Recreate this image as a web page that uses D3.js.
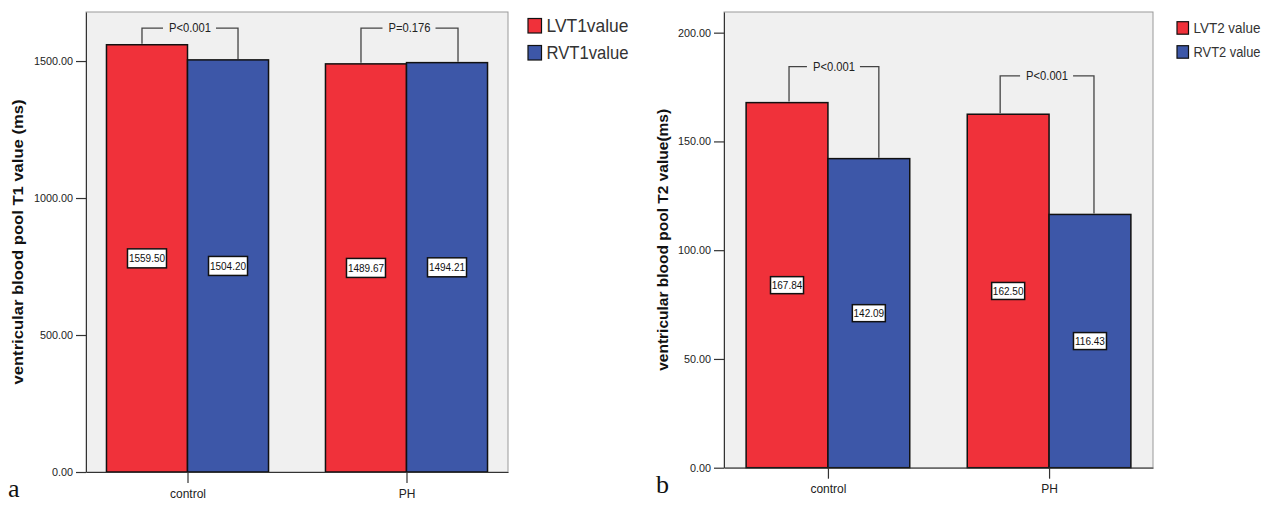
<!DOCTYPE html>
<html>
<head>
<meta charset="utf-8">
<script src="https://cdn.jsdelivr.net/npm/d3@7"></script>
<style>
  html, body { margin: 0; padding: 0; background: #ffffff; }
  svg { display: block; font-family: "Liberation Sans", Arial, sans-serif; }
</style>
</head>
<body>
<svg id="chart" width="1276" height="505"></svg>
<script>
// ---------- data ----------
const categories = ["control", "PH"];

const seriesT1 = ["LVT1value", "RVT1value"];
const lvT1 = [1559.50, 1489.67];
const rvT1 = [1504.20, 1494.21];
const pT1 = ["P<0.001", "P=0.176"];
const bracketT1 = [1620, 1620];
const ticksT1 = [0, 500, 1000, 1500];

const seriesT2 = ["LVT2 value", "RVT2 value"];
const lvT2 = [167.84, 162.50];
const rvT2 = [142.09, 116.43];
const pT2 = ["P<0.001", "P<0.001"];
const bracketT2 = [184.4, 180.1];
const ticksT2 = [0, 50, 100, 150, 200];

const colors = ["#f0313a", "#3d57a8"];

// ---------- layout ----------
const panels = [
  {
    series: seriesT1, lv: lvT1, rv: rvT1, p: pT1, bracket: bracketT1, ticks: ticksT1,
    yMax: 1679, x0: 86, x1: 508, yTop: 12, yBot: 472, pad: 0.4635, barFrac: 0.37,
    title: "ventricular blood pool T1 value (ms)", titleX: 18, titleLen: 285,
    brDx: [[-5, 10], [-5, 11]],
    legX: 528, legY: 18.5, legSw: 14.5, legGap: 27, legFont: 18.5, legTextW: 82,
    letter: "a", letterX: 8, letterY: 497, boxW: 39, boxH: 19
  },
  {
    series: seriesT2, lv: lvT2, rv: rvT2, p: pT2, bracket: bracketT2, ticks: ticksT2,
    yMax: 209.5, x0: 724, x1: 1153, yTop: 12, yBot: 467.7, pad: 0.47, barFrac: 0.37,
    title: "ventricular blood pool T2 value(ms)", titleX: 663, titleLen: 262,
    brDx: [[2, 10], [-8, 4]],
    legX: 1177, legY: 21.7, legSw: 12.5, legGap: 24, legFont: 14, legTextW: 67,
    letter: "b", letterX: 656, letterY: 493, boxW: 33, boxH: 17
  }
];

const svg = d3.select("#chart");

panels.forEach(P => {
  const g = svg.append("g");
  const x = d3.scalePoint().domain(categories).range([P.x0, P.x1]).padding(P.pad);
  const y = d3.scaleLinear().domain([0, P.yMax]).range([P.yBot, P.yTop]);
  const bw = x.step() * P.barFrac;

  // plot background
  g.append("rect")
    .attr("x", P.x0).attr("y", P.yTop)
    .attr("width", P.x1 - P.x0).attr("height", P.yBot - P.yTop)
    .attr("fill", "#f0f0f0").attr("stroke", "#9a9a9a").attr("stroke-width", 1);

  // bars
  const rows = categories.map((c, i) => ({ c, vals: [P.lv[i], P.rv[i]] }));
  rows.forEach(r => {
    r.vals.forEach((v, j) => {
      g.append("rect")
        .attr("x", x(r.c) - bw + j * bw)
        .attr("y", y(v))
        .attr("width", bw)
        .attr("height", y(0) - y(v))
        .attr("fill", colors[j])
        .attr("stroke", "#111")
        .attr("stroke-width", 1.5);
    });
  });

  // value labels (at half height)
  rows.forEach(r => {
    r.vals.forEach((v, j) => {
      const cx = x(r.c) - bw / 2 + j * bw;
      const cy = y(v / 2);
      const lg = g.append("g");
      lg.append("rect")
        .attr("x", cx - P.boxW / 2).attr("y", cy - P.boxH / 2)
        .attr("width", P.boxW).attr("height", P.boxH)
        .attr("fill", "#ffffff").attr("stroke", "#111").attr("stroke-width", 1.5);
      lg.append("text")
        .attr("x", cx).attr("y", cy + 3.6)
        .attr("text-anchor", "middle")
        .attr("font-size", 10).attr("fill", "#111")
        .text(d3.format(".2f")(v));
    });
  });

  // significance brackets
  rows.forEach((r, i) => {
    const xl = x(r.c) - bw / 2 + P.brDx[i][0];
    const xr = x(r.c) + bw / 2 + P.brDx[i][1];
    const yb = y(P.bracket[i]);
    const mid = (xl + xr) / 2;
    g.append("text")
      .attr("x", mid).attr("y", yb + 4.3)
      .attr("text-anchor", "middle")
      .attr("font-size", 12.5).attr("fill", "#222")
      .attr("textLength", 42).attr("lengthAdjust", "spacingAndGlyphs")
      .text(P.p[i]);
    const hw = 21;
    const path = d3.path();
    path.moveTo(xl, y(r.vals[0]) - 1); path.lineTo(xl, yb); path.lineTo(mid - hw - 6, yb);
    path.moveTo(mid + hw + 5, yb); path.lineTo(xr, yb); path.lineTo(xr, y(r.vals[1]) - 1);
    g.append("path").attr("d", path.toString())
      .attr("fill", "none").attr("stroke", "#444").attr("stroke-width", 1.3);
  });

  // y axis
  const ya = g.append("g").attr("transform", `translate(${P.x0},0)`)
    .call(d3.axisLeft(y).tickValues(P.ticks).tickFormat(d3.format(".2f"))
      .tickSize(10).tickSizeOuter(0).tickPadding(3));
  ya.attr("font-family", null);
  ya.select(".domain").attr("stroke", "#333");
  ya.selectAll(".tick line").attr("stroke", "#333").attr("stroke-width", 1.2);
  ya.selectAll(".tick text").attr("font-size", 10.8).attr("fill", "#222");

  // x axis
  const xa = g.append("g").attr("transform", `translate(0,${P.yBot})`)
    .call(d3.axisBottom(x).tickSize(11).tickSizeOuter(0).tickPadding(6));
  xa.attr("font-family", null);
  xa.select(".domain").attr("stroke", "#333");
  xa.selectAll(".tick line").attr("stroke", "#333").attr("stroke-width", 1.2);
  xa.selectAll(".tick text").attr("font-size", 12).attr("fill", "#222");

  // y title
  g.append("text")
    .attr("transform", `translate(${P.titleX},${(P.yTop + P.yBot) / 2}) rotate(-90)`)
    .attr("text-anchor", "middle").attr("dy", "0.35em")
    .attr("font-size", 15.5).attr("font-weight", "bold").attr("fill", "#111")
    .attr("textLength", P.titleLen).attr("lengthAdjust", "spacingAndGlyphs")
    .text(P.title);

  // legend
  P.series.forEach((s, j) => {
    const ly = P.legY + j * P.legGap;
    g.append("rect")
      .attr("x", P.legX).attr("y", ly)
      .attr("width", P.legSw - 1).attr("height", P.legSw)
      .attr("fill", colors[j]).attr("stroke", "#111").attr("stroke-width", 1.2);
    g.append("text")
      .attr("x", P.legX + P.legSw + 4).attr("y", ly + P.legSw * 0.5 + P.legFont * 0.36)
      .attr("font-size", P.legFont).attr("fill", "#333")
      .attr("textLength", P.legTextW).attr("lengthAdjust", "spacingAndGlyphs")
      .text(s);
  });

  // panel letter
  g.append("text")
    .attr("x", P.letterX).attr("y", P.letterY)
    .style("font-family", "'Liberation Serif', 'Times New Roman', serif")
    .attr("font-size", 26).attr("fill", "#111")
    .text(P.letter);
});
</script>
</body>
</html>
